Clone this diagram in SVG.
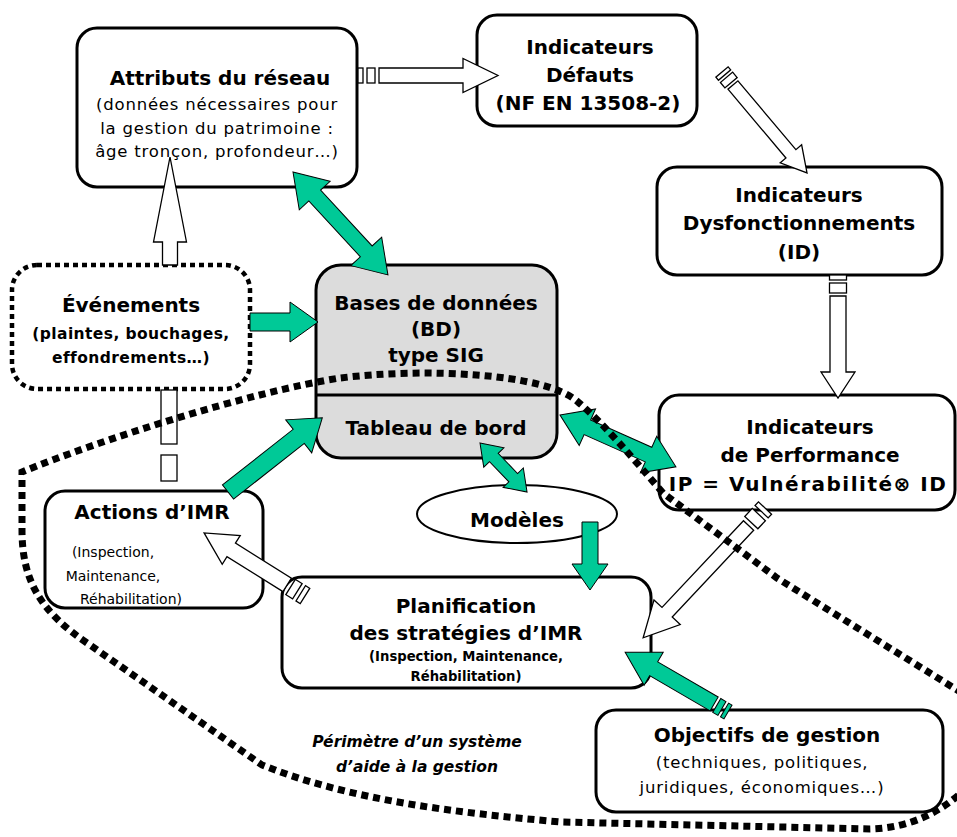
<svg xmlns="http://www.w3.org/2000/svg" width="957" height="837" viewBox="0 0 957 837">
<style>
.box{fill:#fff;stroke:#000;stroke-width:3}
.gray{fill:#dcdcdc;stroke:#000;stroke-width:3}
.dotbox{fill:#fff;stroke:#000;stroke-width:4.5;stroke-dasharray:5 4}
.perim{fill:none;stroke:#000;stroke-width:7;stroke-dasharray:7 5}
.g{fill:#00c997;stroke:#000;stroke-width:1}
.w{fill:#fff;stroke:#000;stroke-width:1.3}
text{font-family:"Comic Sans MS","DejaVu Sans",sans-serif;text-anchor:middle;fill:#000}
.t{font-size:20px;font-weight:bold}
.s{font-size:16.5px;letter-spacing:0.8px}
.sb{font-size:15.5px;font-weight:bold;letter-spacing:0.4px}
.xs{font-size:14px}
.xsb{font-size:13.2px;font-weight:bold}
.it{font-size:15.5px;font-weight:bold;font-style:italic}
</style>
<rect width="957" height="837" fill="#fff"/>

<g id="attributs">
<rect class="box" x="77" y="28" width="280" height="159" rx="20"/>
<text class="t" x="220" y="85">Attributs du réseau</text>
<text class="s" x="217" y="110">(données nécessaires pour</text>
<text class="s" x="217" y="134">la gestion du patrimoine :</text>
<text class="s" x="217" y="157">âge tronçon, profondeur…)</text>
</g>

<g id="defauts">
<rect class="box" x="477" y="15" width="220" height="111" rx="20"/>
<text class="t" x="590" y="54">Indicateurs</text>
<text class="t" x="590" y="82">Défauts</text>
<text class="t" x="588" y="110">(NF EN 13508-2)</text>
</g>

<g id="dysfonctionnements">
<rect class="box" x="657" y="167" width="285" height="108" rx="20"/>
<text class="t" x="799" y="202">Indicateurs</text>
<text class="t" x="799" y="230">Dysfonctionnements</text>
<text class="t" x="799" y="259">(ID)</text>
</g>

<g id="evenements">
<rect class="dotbox" x="12" y="265" width="238" height="124" rx="25"/>
<text class="t" x="131" y="312">Événements</text>
<text class="sb" x="131" y="339">(plaintes, bouchages,</text>
<text class="sb" x="131" y="363">effondrements…)</text>
</g>

<g id="bases">
<rect class="gray" x="316" y="265" width="241" height="193" rx="25"/>
<line x1="316" y1="395" x2="557" y2="395" stroke="#000" stroke-width="3"/>
<text class="t" x="436" y="310">Bases de données</text>
<text class="t" x="436" y="336">(BD)</text>
<text class="t" x="436" y="362">type SIG</text>
<text class="t" x="436" y="435">Tableau de bord</text>
</g>

<g id="performance">
<rect class="box" x="659" y="395" width="296" height="115" rx="20"/>
<text class="t" x="810" y="434">Indicateurs</text>
<text class="t" x="810" y="462">de Performance</text>
<text class="t" x="808" y="491" style="letter-spacing:1.5px">IP = Vulnérabilité⊗ ID</text>
</g>

<g id="actions">
<rect class="box" x="45" y="491" width="218" height="117" rx="20"/>
<text class="t" x="152" y="519">Actions d’IMR</text>
<text class="xs" x="113" y="557">(Inspection,</text>
<text class="xs" x="113" y="581">Maintenance,</text>
<text class="xs" x="131" y="604">Réhabilitation)</text>
</g>

<g id="modeles">
<ellipse cx="517" cy="514" rx="100" ry="29" fill="#fff" stroke="#000" stroke-width="2"/>
<text class="t" x="517" y="527">Modèles</text>
</g>

<g id="planification">
<rect class="box" x="282" y="577" width="369" height="111" rx="20"/>
<text class="t" x="466" y="613">Planification</text>
<text class="t" x="466" y="640">des stratégies d’IMR</text>
<text class="xsb" x="466" y="661">(Inspection, Maintenance,</text>
<text class="xsb" x="466" y="681">Réhabilitation)</text>
</g>

<g id="objectifs">
<rect class="box" x="596" y="710" width="347" height="102" rx="20"/>
<text class="t" x="767" y="742">Objectifs de gestion</text>
<text class="s" x="762" y="768">(techniques, politiques,</text>
<text class="s" x="762" y="793">juridiques, économiques…)</text>
</g>

<g id="perimetre-label">
<text class="it" x="417" y="747">Périmètre d’un système</text>
<text class="it" x="417" y="772">d’aide à la gestion</text>
</g>

<g id="connectors">
<polygon class="g" transform="translate(293,172) rotate(47.3)" points="0,0 32,-21 32,-8 108,-8 108,-21 140,0 108,21 108,8 32,8 32,21"/>
<polygon class="g" transform="translate(250,322)" points="0,-9 40,-9 40,-20 68,0 40,20 40,9 0,9"/>
<polygon class="g" transform="translate(228,492) rotate(-38.2)" points="0,-9 90,-9 90,-21 120,0 90,21 90,9 0,9"/>
<polygon class="g" transform="translate(480,443) rotate(46.2)" points="0,0 20,-14 20,-6 48,-6 48,-14 68,0 48,14 48,6 20,6 20,14"/>
<polygon class="g" transform="translate(560,415) rotate(24.1)" points="0,0 30,-20 30,-8 97,-8 97,-20 127,0 97,20 97,8 30,8 30,20"/>
<polygon class="g" transform="translate(590,522) rotate(90)" points="0,-8 42,-8 42,-18 68,0 42,18 42,8 0,8"/>
<g class="g" transform="translate(728,712) rotate(210.2)">
<rect x="0" y="-8" width="4" height="16"/>
<rect x="7" y="-8" width="6" height="16"/>
<polygon points="16,-8 86,-8 86,-19 119,0 86,19 86,8 16,8"/>
</g>
<g class="w" transform="translate(358,75.5)">
<rect x="0" y="-7.5" width="5" height="15"/>
<rect x="9" y="-7.5" width="8" height="15"/>
<polygon points="21,-7.5 105,-7.5 105,-17 140,0 105,17 105,7.5 21,7.5"/>
</g>
<g class="w" transform="translate(722,72) rotate(49.9)">
<rect x="0" y="-8" width="4" height="16"/>
<rect x="7" y="-8" width="7" height="16"/>
<polygon points="17,-6.5 107,-6.5 107,-14 132,0 107,14 107,6.5 17,6.5"/>
</g>
<g class="w" transform="translate(838,275) rotate(90)">
<rect x="0" y="-8.5" width="5" height="17"/>
<rect x="8" y="-8.5" width="10" height="17"/>
<polygon points="21,-8 97,-8 97,-17 123,0 97,17 97,8 21,8"/>
</g>
<polygon class="w" transform="translate(170,265) rotate(-90)" points="0,-7.5 23,-7.5 23,-16.5 108,0 23,16.5 23,7.5 0,7.5"/>
<rect class="w" x="161" y="390" width="16" height="54"/>
<rect class="w" x="161" y="455" width="16" height="26"/>
<g class="w" transform="translate(765,508) rotate(133.2)">
<rect x="0" y="-9" width="5" height="18"/>
<rect x="9" y="-9" width="11" height="18"/>
<polygon points="24,-7 143,-7 143,-18 178,0 143,18 143,7 24,7"/>
</g>
<g class="w" transform="translate(305,596) rotate(212)">
<rect x="0" y="-9" width="5" height="18"/>
<rect x="9" y="-9" width="8" height="18"/>
<polygon points="21,-8 87,-8 87,-17 119,0 87,17 87,8 21,8"/>
</g>
</g>

<path id="perimetre" class="perim" d="M 962,693 L 777,578 L 663,493 C 630,455 605,425 578,402 C 545,372 420,368 340,378 C 250,392 100,440 22,472 L 22,530 C 22,580 40,612 90,645 L 262,765 C 350,800 450,812 560,822 L 870,829 C 910,828 940,812 962,792"/>
</svg>
